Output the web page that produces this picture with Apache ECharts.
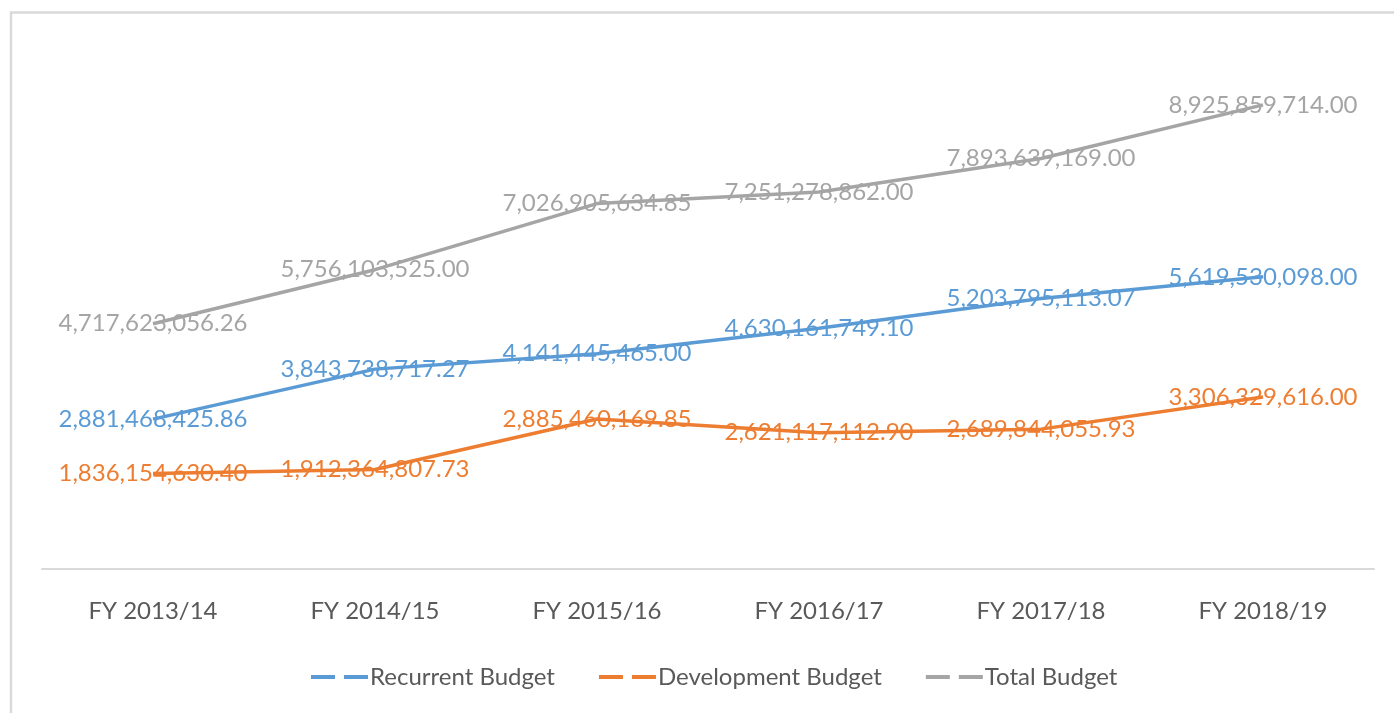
<!DOCTYPE html>
<html>
<head>
<meta charset="utf-8">
<script src="https://cdn.jsdelivr.net/npm/echarts@6/dist/echarts.min.js"></script>
<style>
  html, body { margin: 0; padding: 0; background: #ffffff; }
  #chart { width: 1394px; height: 713px; }
</style>
</head>
<body>
<div id="chart"></div>
<script>
var categories = ['FY 2013/14', 'FY 2014/15', 'FY 2015/16', 'FY 2016/17', 'FY 2017/18', 'FY 2018/19'];
var recurrentBudget = [2881468425.86, 3843738717.27, 4141445465.00, 4630161749.10, 5203795113.07, 5619530098.00];
var developmentBudget = [1836154630.40, 1912364807.73, 2885460169.85, 2621117112.90, 2689844055.93, 3306329616.00];
var totalBudget = [4717623056.26, 5756103525.00, 7026905634.85, 7251278862.00, 7893639169.00, 8925859714.00];
var seriesNames = ['Recurrent Budget', 'Development Budget', 'Total Budget'];
var seriesColors = ['#5B9BD5', '#ED7D31', '#A5A5A5'];

function fmt(v) {
  return v.toLocaleString('en-US', { minimumFractionDigits: 2, maximumFractionDigits: 2 });
}

var FONT = 'Lato, "Open Sans", sans-serif';

function makeSeries(name, data, color) {
  return {
    name: name,
    type: 'line',
    data: data,
    symbol: 'circle',
    symbolSize: 1,
    showSymbol: true,
    lineStyle: { color: color, width: 3.5 },
    itemStyle: { color: color, opacity: 0 },
    label: {
      show: true,
      position: 'inside',
      offset: [0, 6],
      color: color,
      opacity: 1,
      fontFamily: FONT,
      fontSize: 24,
      formatter: function (p) { return fmt(p.value); }
    },
    labelLayout: { hideOverlap: false },
    z: 2
  };
}

var chart = echarts.init(document.getElementById('chart'), null, { renderer: 'canvas' });
chart.setOption({
  animation: false,
  backgroundColor: '#ffffff',
  graphic: [{
    type: 'rect',
    shape: { x: 11, y: 12.5, width: 1400, height: 800 },
    style: { fill: 'none', stroke: '#d9d9d9', lineWidth: 2.5 },
    silent: true
  }],
  grid: { left: 42, right: 20, top: 49, bottom: 144, containLabel: false },
  legend: {
    data: seriesNames.map(function (n, i) {
      return { name: n, icon: 'path://M0,0 L24,0 L24,4 L0,4 Z M33,0 L57,0 L57,4 L33,4 Z', itemStyle: { color: seriesColors[i], opacity: 1 } };
    }),
    bottom: 19,
    left: 306,
    itemWidth: 57,
    itemHeight: 4,
    itemGap: 44,
    textStyle: { color: '#595959', fontFamily: FONT, fontSize: 24, padding: [0, 0, 0, -3] }
  },
  xAxis: {
    type: 'category',
    data: categories,
    boundaryGap: true,
    axisLine: { show: true, lineStyle: { color: '#d9d9d9', width: 2 } },
    axisTick: { show: false },
    axisLabel: { color: '#595959', fontFamily: FONT, fontSize: 24, margin: 30 },
    splitLine: { show: false }
  },
  yAxis: {
    type: 'value',
    min: 0,
    max: 10000000000,
    show: false,
    splitLine: { show: false }
  },
  series: [
    makeSeries(seriesNames[0], recurrentBudget, seriesColors[0]),
    makeSeries(seriesNames[1], developmentBudget, seriesColors[1]),
    makeSeries(seriesNames[2], totalBudget, seriesColors[2])
  ]
});
</script>
</body>
</html>
